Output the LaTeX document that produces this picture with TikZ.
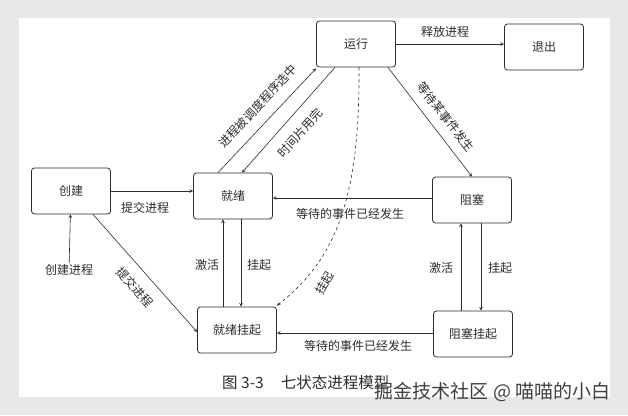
\documentclass[tikz,border=0pt]{standalone}
\usepackage{fontspec}
\setmainfont{Noto Sans CJK SC}
\usetikzlibrary{arrows}
\definecolor{ink}{RGB}{45,45,45}
\tikzset{
  font=\fontsize{12}{14}\selectfont,
  % Set arrowhead
  >=stealth,
  % state box
  state/.style={draw=ink, thick, fill=white, rounded corners=3pt,
    minimum width=79pt, minimum height=46pt, inner sep=0pt, text=ink},
  % edge label
  lbl/.style={text=ink, inner sep=1pt},
  % transitions
  tr/.style={->, draw=ink, semithick},
}
\begin{document}
\begin{tikzpicture}[x=1pt, y=-1pt]

    % screenshot card
    \fill[black!9] (0,0) rectangle (628,415);
    \fill[white] (19,18) rectangle (610,397);
    \useasboundingbox (0,0) rectangle (628,415);

    % states
    \node[state] (run) at (356,44) {运行};
    \node[state] (exit) at (544,47) {退出};
    \node[state] (new) at (71,191) {创建};
    \node[state] (ready) at (233,196) {就绪};
    \node[state] (block) at (472,200) {阻塞};
    \node[state] (readys) at (237,330) {就绪挂起};
    \node[state] (blocks) at (473,334) {阻塞挂起};

    % creating
    \node[lbl] (create) at (69,270) {创建进程};
    \draw[tr] (create) -- (new);
    \draw[tr] (new.east) -- (new.east -| ready.west);
    \node[lbl] at (145,208) {提交进程};
    \draw[tr] ([xshift=22pt]new.south) -- ([yshift=-2pt]readys.west);
    \node[lbl, rotate=-48] at (135,287) {提交进程};

    % running
    \draw[tr] ([xshift=-15pt]ready.north) -- ([yshift=-1pt]run.south west);
    \node[lbl, rotate=47] at (258,106) {进程被调度程序选中};
    \draw[tr] ([xshift=-21pt]run.south) -- ([xshift=9pt]ready.north);
    \node[lbl, rotate=48] at (300,133) {时间片用完};
    \draw[tr] (run.east) -- (run.east -| exit.west);
    \node[lbl] at (445,32) {释放进程};
    \draw[tr] ([xshift=-8pt]run.south east) -- (block.north);
    \node[lbl, rotate=-52] at (446,117) {等待某事件发生};
    \draw[tr, dashed] ([xshift=3pt]run.south) .. controls (360,200) and (335,260)
      .. ([yshift=1pt]readys.north east);
    \node[lbl, rotate=60] at (325,283) {挂起};

    % blocking
    \draw[tr] (block.west |- 0,198) -- (ready.east |- 0,198);
    \node[lbl] at (350,214) {等待的事件已经发生};
    \draw[tr] (blocks.west |- 0,333) -- (readys.east |- 0,333);
    \node[lbl] at (358,346) {等待的事件已经发生};

    % suspend and activate
    \draw[tr] (readys.north -| 223,0) -- (ready.south -| 223,0);
    \draw[tr] (ready.south -| 241,0) -- (readys.north -| 241,0);
    \node[lbl] at (207,265) {激活};
    \node[lbl] at (259,265) {挂起};
    \draw[tr] (blocks.north -| 461,0) -- (block.south -| 461,0);
    \draw[tr] (block.south -| 481,0) -- (blocks.north -| 481,0);
    \node[lbl] at (441,268) {激活};
    \node[lbl] at (500,268) {挂起};

    % caption and watermark
    \node[lbl, anchor=west, font=\fontsize{15.5}{18}\selectfont] (cap) at (221,383)
      {图 3-3\hspace{1.1em}七状态进程模型};
    \node[anchor=east, text=black!75, font=\fontsize{19}{21}\selectfont] (mark)
      at (614,392) {掘金技术社区 @ 喵喵的小白};
  \end{tikzpicture}
\end{document}
